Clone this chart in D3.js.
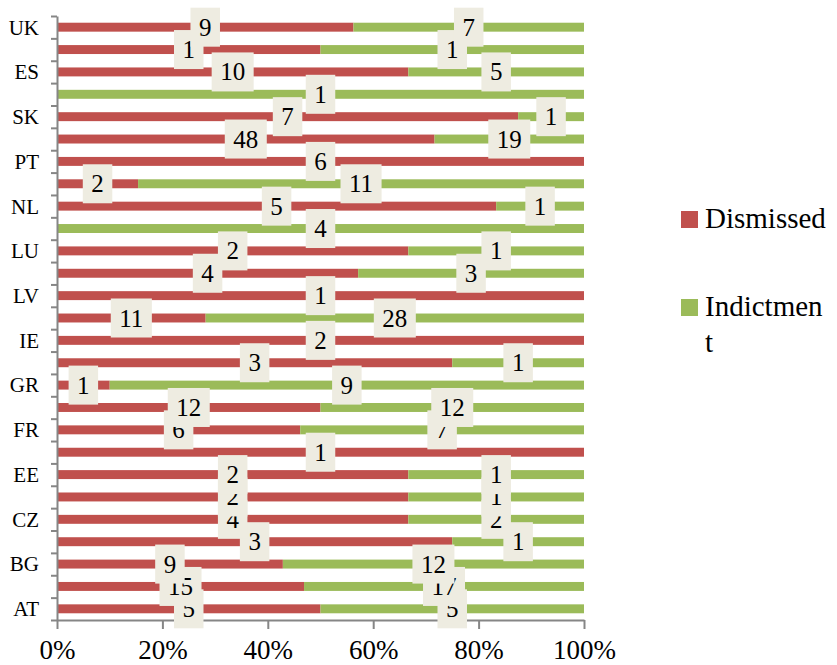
<!DOCTYPE html>
<html>
<head>
<meta charset="utf-8">
<script src="https://cdn.jsdelivr.net/npm/d3@7"></script>
<style>
  html, body { margin: 0; padding: 0; background: #fff; }
  svg { display: block; }
</style>
</head>
<body>
<svg id="chart" width="837" height="665" font-family="Liberation Serif, serif"></svg>
<script>
// ---- data (bottom to top) ----
const countries = ["AT","BE","BG","CY","CZ","DK","EE","FI","FR","DE","GR","HU","IE","IT","LV","LT","LU","MT","NL","PL","PT","RO","SK","SI","ES","SE","UK"];
const dismissed  = [5,15,9,3,4,2,2,1,6,12,1,3,2,11,1,4,2,0,5,2,6,48,7,0,10,1,9];
const indictment = [5,17,12,1,2,1,1,0,7,12,9,1,0,28,0,3,1,4,1,11,0,19,1,1,5,1,7];
const seriesNames = ["Dismissed", "Indictment"];
const xTicks = [0, 0.2, 0.4, 0.6, 0.8, 1.0];

const colors = { Dismissed: "#C0504D", Indictment: "#9BBB59" };
const axisColor = "#868686";
const labelFill = "#EEECE1";
const FONT = "Liberation Serif, serif";

const svg = d3.select("#chart");
const pL = 57, pR = 584, pT = 16, pB = 620;

const x = d3.scaleLinear().domain([0, 1]).range([pL, pR]);
const y = d3.scaleBand().domain(countries).range([pB, pT]).paddingInner(0.6).paddingOuter(0.3);
const yEdge = d3.scaleLinear().domain([0, countries.length]).range([pB, pT]);

const rows = countries.map((c, i) => {
  const tot = dismissed[i] + indictment[i];
  const s = tot ? dismissed[i] / tot : 0;
  return { c, d: dismissed[i], n: indictment[i], s };
});

// bars
const g = svg.append("g");
g.selectAll("rect.dis").data(rows).join("rect").attr("class", "dis")
  .attr("x", x(0)).attr("y", d => y(d.c))
  .attr("width", d => x(d.s) - x(0)).attr("height", y.bandwidth())
  .attr("fill", colors.Dismissed);
g.selectAll("rect.ind").data(rows).join("rect").attr("class", "ind")
  .attr("x", d => x(d.s)).attr("y", d => y(d.c))
  .attr("width", d => x(1) - x(d.s)).attr("height", y.bandwidth())
  .attr("fill", colors.Indictment);

// axes
const xAxis = svg.append("g").attr("transform", `translate(0,${pB})`)
  .call(d3.axisBottom(x).tickValues(xTicks).tickFormat(d3.format(".0%")).tickSize(9).tickSizeOuter(0));
xAxis.attr("font-family", FONT);
xAxis.select(".domain").attr("stroke", axisColor).attr("stroke-width", 2);
xAxis.selectAll(".tick line").attr("stroke", axisColor).attr("stroke-width", 2);
xAxis.selectAll(".tick text").attr("fill", "#000").attr("font-size", 27)
  .attr("y", 39).attr("dy", null);

const yTicksAx = svg.append("g").attr("transform", `translate(${pL},0)`)
  .call(d3.axisLeft(yEdge).tickValues(d3.range(countries.length + 1)).tickFormat("").tickSize(6).tickSizeOuter(0));
yTicksAx.select(".domain").attr("stroke", axisColor).attr("stroke-width", 2);
yTicksAx.selectAll(".tick line").attr("stroke", axisColor).attr("stroke-width", 2);

const yLab = svg.append("g").attr("transform", `translate(${pL - 18},0)`)
  .call(d3.axisLeft(y).tickSize(0).tickFormat((d, i) => i % 2 === 0 ? d : ""));
yLab.attr("font-family", FONT);
yLab.select(".domain").remove();
yLab.selectAll(".tick text").attr("fill", "#000").attr("font-size", 21)
  .attr("x", 0).attr("dy", "0.35em");

// data labels (Dismissed first, then Indictment; bottom to top)
const lab = svg.append("g").attr("font-size", 25).attr("font-family", FONT);
function addLabel(val, cx, cy) {
  const gg = lab.append("g");
  const t = gg.append("text").attr("x", cx).attr("y", cy).attr("dy", "0.34em")
    .attr("text-anchor", "middle").attr("fill", "#000").text(val);
  const w = t.node().getComputedTextLength() + 17;
  gg.insert("rect", "text").attr("x", cx - w / 2).attr("y", cy - 19.5)
    .attr("width", w).attr("height", 39).attr("fill", labelFill);
}
rows.forEach(d => { if (d.d > 0) addLabel(d.d, x(d.s / 2), y(d.c) + y.bandwidth() / 2); });
rows.forEach(d => { if (d.n > 0) addLabel(d.n, x(d.s + (1 - d.s) / 2), y(d.c) + y.bandwidth() / 2); });

// legend
const leg = svg.append("g").attr("font-size", 29).attr("font-family", FONT);
leg.append("rect").attr("x", 681).attr("y", 211).attr("width", 17).attr("height", 17).attr("fill", colors.Dismissed);
leg.append("text").attr("x", 705).attr("y", 228).attr("fill", "#000").text(seriesNames[0]);
leg.append("rect").attr("x", 681).attr("y", 299).attr("width", 17).attr("height", 17).attr("fill", colors.Indictment);
const lt = leg.append("text").attr("x", 705).attr("y", 316).attr("fill", "#000");
lt.append("tspan").attr("x", 705).text(seriesNames[1].slice(0, 9));
lt.append("tspan").attr("x", 705).attr("dy", 36).text(seriesNames[1].slice(9));
</script>
</body>
</html>
